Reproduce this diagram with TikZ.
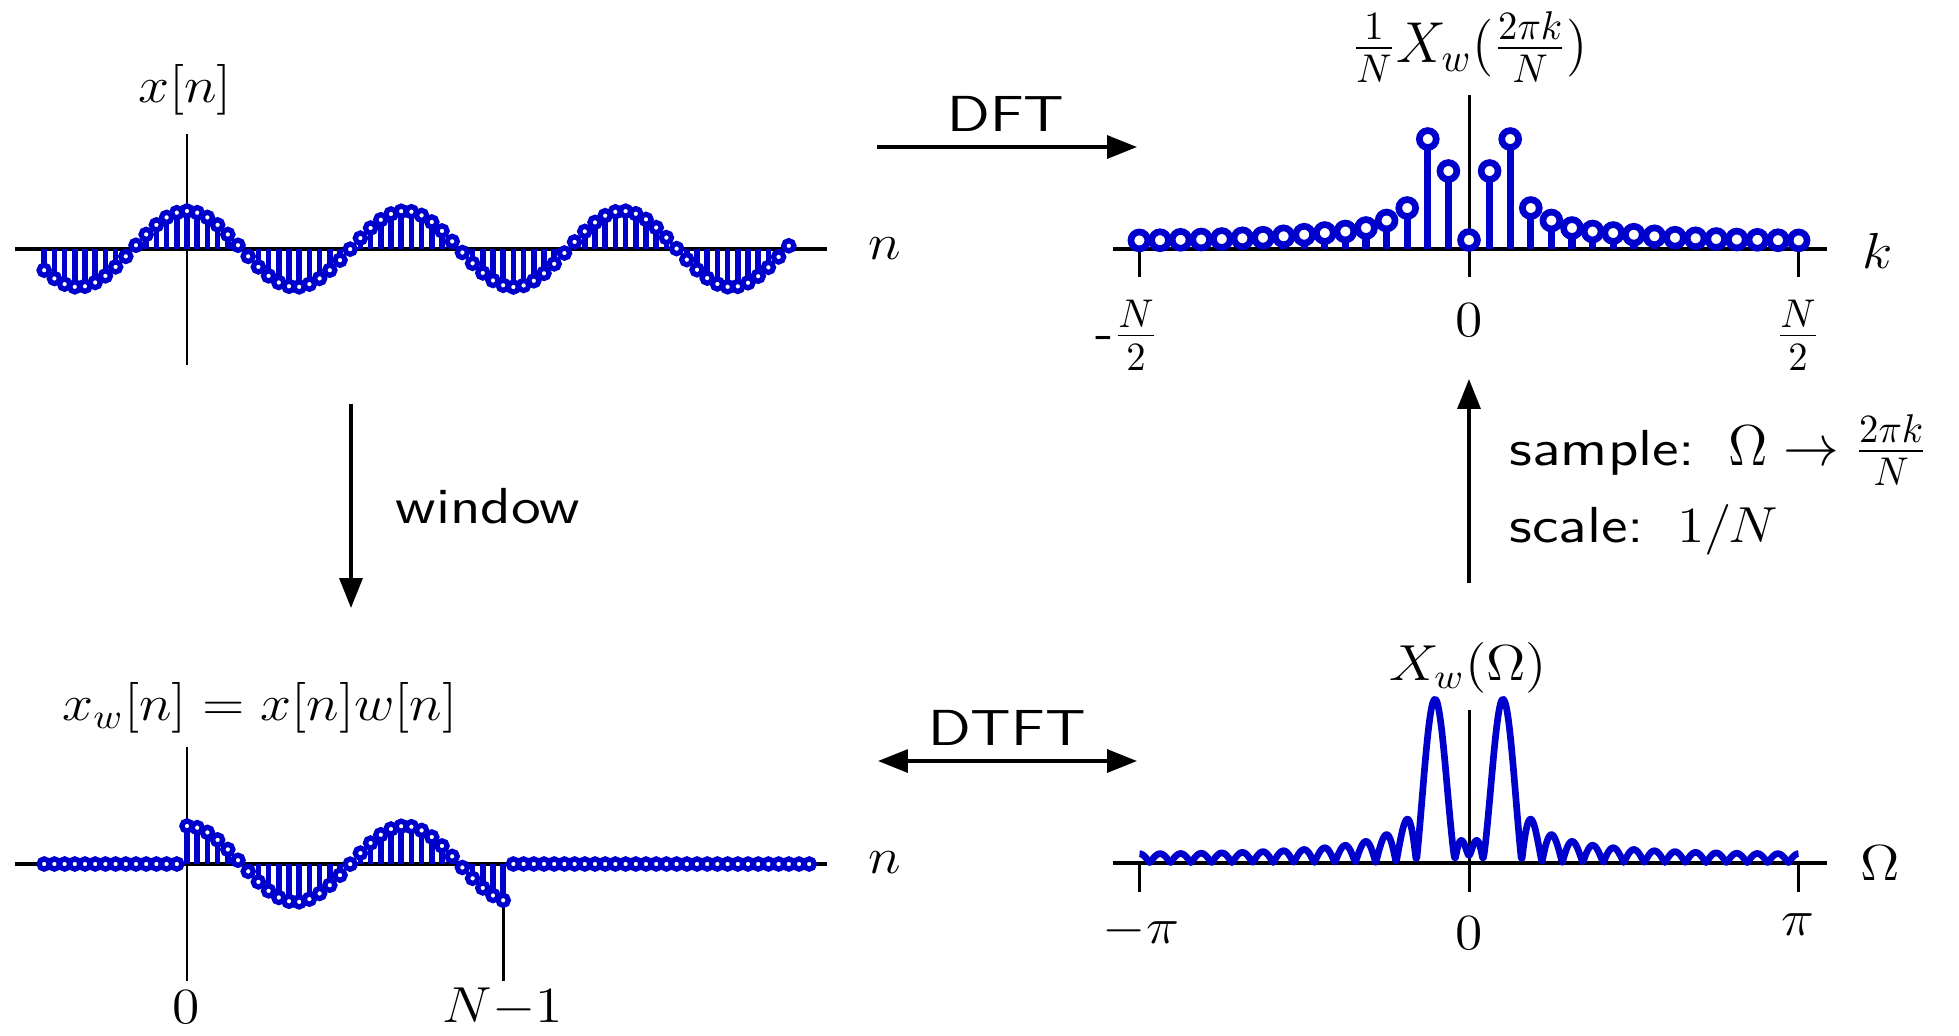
\documentclass[tikz,border=0pt]{standalone}
\usepackage{graphicx}
\usetikzlibrary{arrows.meta}
\definecolor{stemblue}{RGB}{0,0,205}
\newcommand{\wsf}[1]{\scalebox{1.2}[1]{\sffamily #1}}
\newcommand{\wm}[1]{\scalebox{1.1}[1]{#1}}
\newcommand{\wf}[1]{\scalebox{1.1}[1.14]{#1}}
\begin{document}
\begin{tikzpicture}[x=0.01cm,y=-0.01cm,
  every node/.style={font=\Large, inner sep=0pt},
  haxis/.style={line width=1.2pt},
  vaxis/.style={line width=0.85pt},
  tstem/.style={stemblue, line width=1.6pt},
  tcirc/.style={draw=stemblue, fill=white, line width=1.5pt},
  fstem/.style={stemblue, line width=2.1pt},
  fcirc/.style={draw=stemblue, fill=white, line width=1.9pt},
  dtft/.style={stemblue, line width=1.9pt, line join=round},
  conn/.style={line width=1pt, -{Triangle[length=8.5pt,width=6.5pt]}},
  connboth/.style={line width=1pt, {Triangle[length=8.5pt,width=6.5pt]}-{Triangle[length=8.5pt,width=6.5pt]}},
  declare function={
    Sd(\a)=sin(16*\a)/sin(\a/2);
    Xw(\t)=0.5*sqrt((Sd(\t-17.8875)+Sd(\t+17.8875))^2*0.015952+(Sd(\t-17.8875)-Sd(\t+17.8875))^2*0.984048);
  }]
\path[use as bounding box] (0,0) rectangle (1959,1035);

% ---------- top-left: x[n]
\draw[haxis] (15,249) -- (827,249);
\draw[vaxis] (187,134) -- (187,365);
\foreach \n in {-14,...,59}{
  \pgfmathsetmacro\yy{249-38*cos(\n*16.8618)}
  \draw[tstem] (187+10.2*\n,249) -- (187+10.2*\n,\yy);
}
\foreach \n in {-14,...,59}{
  \pgfmathsetmacro\yy{249-38*cos(\n*16.8618)}
  \draw[tcirc] (187+10.2*\n,\yy) circle[radius=1.45pt];
}
\node (xlab) at (185,90) {\wm{$x[n]$}};
\node (nlabA) at (885,249) {\wm{$n$}};

% ---------- bottom-left: x_w[n]
\draw[haxis] (15,864) -- (827,864);
\draw[vaxis] (187,747) -- (187,981);
\draw[vaxis] (503.2,864) -- (503.2,981);
\foreach \n in {0,...,31}{
  \pgfmathsetmacro\yy{864-38*cos(\n*16.8618)}
  \draw[tstem] (187+10.2*\n,864) -- (187+10.2*\n,\yy);
}
\foreach \n in {-14,...,61}{
  \pgfmathsetmacro\yy{864-38*and(\n>-1,\n<32)*cos(\n*16.8618)}
  \draw[tcirc] (187+10.2*\n,\yy) circle[radius=1.45pt];
}
\node (xwlab) at (260,708) {\wm{$x_w[n]=x[n]w[n]$}};
\node (zeroA) at (186,1007) {\wm{$0$}};
\node (nm1) at (503,1007) {\wm{$N{-}1$}};
\node (nlabB) at (885,863) {\wm{$n$}};

% ---------- top-right: DFT
\draw[haxis] (1113,249) -- (1827,249);
\draw[vaxis] (1469,95) -- (1469,277);
\draw[vaxis] (1139,249) -- (1139,277);
\draw[vaxis] (1798,249) -- (1798,277);
\foreach \k/\h in {-16/8.6,-15/8.8,-14/9.2,-13/9.5,-12/10,-11/10.7,-10/11.3,-9/12.7,-8/14.3,-7/16,-6/17.5,-5/21,-4/28.5,-3/41,-2/110,-1/78,0/9,1/78,2/110,3/41,4/28.5,5/21,6/17.5,7/16,8/14.3,9/12.7,10/11.3,11/10.7,12/10,13/9.5,14/9.2,15/8.8,16/8.6}{
  \draw[fstem] (1469+20.6*\k,249) -- (1469+20.6*\k,249-\h);
}
\foreach \k/\h in {-16/8.6,-15/8.8,-14/9.2,-13/9.5,-12/10,-11/10.7,-10/11.3,-9/12.7,-8/14.3,-7/16,-6/17.5,-5/21,-4/28.5,-3/41,-2/110,-1/78,0/9,1/78,2/110,3/41,4/28.5,5/21,6/17.5,7/16,8/14.3,9/12.7,10/11.3,11/10.7,12/10,13/9.5,14/9.2,15/8.8,16/8.6}{
  \draw[fcirc] (1469+20.6*\k,249-\h) circle[radius=2.4pt];
}
\node (dfttitle) at (1470,47) {\wf{$\frac{1}{N}X_w(\frac{2\pi k}{N})$}};
\node (mN2) at (1127,335) {\wf{-$\frac{N}{2}$}};
\node (zeroB) at (1469,320) {\wm{$0$}};
\node (pN2) at (1798,335) {\wf{$\frac{N}{2}$}};
\node (klab) at (1878,251) {\wm{$k$}};

% ---------- bottom-right: DTFT
\draw[haxis] (1113,863) -- (1827,863);
\draw[vaxis] (1469,710) -- (1469,892);
\draw[vaxis] (1139,863) -- (1139,892);
\draw[vaxis] (1798,863) -- (1798,892);
\draw[dtft] plot[domain=-180:180, samples=721, variable=\t] ({1469+\t*1.830556},{863-9.65*Xw(\t)});
\node (xwOm) at (1468,668) {\wm{$X_w(\Omega)$}};
\node (mpi) at (1141,931) {\wm{$-\pi$}};
\node (zeroC) at (1469,933) {\wm{$0$}};
\node (ppi) at (1798,925) {\wm{$\pi$}};
\node (Omlab) at (1880,863) {\wm{$\Omega$}};

% ---------- connectors
\coordinate (dftS) at (877,147);
\coordinate (dftE) at (1137,147);
\draw[conn] (dftS) -- (dftE);
\node (dftlab) at (1006,114) {\wsf{DFT}};

\coordinate (winS) at (351,404);
\coordinate (winE) at (351,608);
\draw[conn] (winS) -- (winE);
\node (winlab) at (488,506) {\wsf{window}};

\coordinate (dtftS) at (878,761);
\coordinate (dtftE) at (1137,761);
\draw[connboth] (dtftS) -- (dtftE);
\node (dtftlab) at (1007,728) {\wsf{DTFT}};

\coordinate (smpS) at (1469,583);
\coordinate (smpE) at (1469,379);
\draw[conn] (smpS) -- (smpE);
\node[anchor=west] (smplab) at (1509,450) {\wsf{sample:}\ \ \wf{$\Omega\rightarrow\frac{2\pi k}{N}$}};
\node[anchor=west] (sclab) at (1509,530) {\wsf{scale:}\ \ \wm{$1/N$}};
\end{tikzpicture}
\end{document}
